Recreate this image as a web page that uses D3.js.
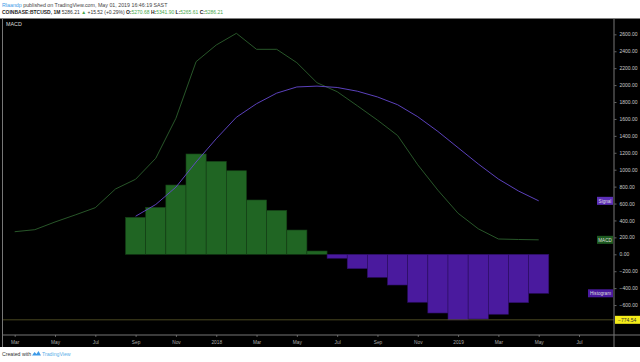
<!DOCTYPE html>
<html>
<head>
<meta charset="utf-8">
<script src="https://cdn.jsdelivr.net/npm/d3@7"></script>
<style>
  html, body { margin: 0; padding: 0; background: #fff; }
  text { font-family: "Liberation Sans", Arial, sans-serif; }
</style>
</head>
<body>
<div id="chart"></div>
<script>
// months Mar 2017 .. May 2019 (monthly bars)
var months = ["2017-03","2017-04","2017-05","2017-06","2017-07","2017-08","2017-09","2017-10","2017-11","2017-12",
  "2018-01","2018-02","2018-03","2018-04","2018-05","2018-06","2018-07","2018-08","2018-09","2018-10","2018-11","2018-12",
  "2019-01","2019-02","2019-03","2019-04","2019-05"];
var macdValues = [267, 291, 382, 465, 551, 772, 887, 1135, 1608, 2277,
  2474, 2612, 2423, 2423, 2265, 2028, 1922, 1756, 1586, 1404, 1058, 757,
  485, 302, 181, 175, 171];
var signalValues = [null, null, null, null, null, null, 450, 589, 794, 1091,
  1366, 1620, 1780, 1905, 1978, 1988, 1972, 1928, 1860, 1768, 1626, 1452,
  1260, 1068, 890, 748, 632];
var histValues = [null, null, null, null, null, null, 437, 555, 819, 1186,
  1099, 988, 642, 520, 287, 39, -47, -170, -272, -363, -567, -694,
  -774.54, -765, -709, -572, -461];
var timeTicks = ["Mar","May","Jul","Sep","Nov","2018","Mar","May","Jul","Sep","Nov","2019","Mar","May","Jul"];
var priceTicks = [2600, 2400, 2200, 2000, 1800, 1600, 1400, 1200, 1000, 800, 600, 400, 200, 0, -200, -400, -600];

var width = 640, height = 362;
var panelLeft = 3, panelRight = 614, panelTop = 18.5, panelBottom = 347, axisLineY = 335;

var svg = d3.select('#chart').append('svg')
  .attr('width', width)
  .attr('height', height);

svg.append('rect').attr('width', width).attr('height', height).attr('fill', '#fff');

// header
var h1 = svg.append('text').attr('x', 2).attr('y', 7).attr('font-size', 5.3).attr('fill', '#444');
h1.append('tspan').attr('fill', '#3d9ae8').text('Rlaandp');
h1.append('tspan').text(' published on TradingView.com, May 01, 2019 16:46:19 SAST');

var h2 = svg.append('text').attr('x', 2).attr('y', 14.3).attr('font-size', 5.1).attr('fill', '#333')
  .attr('textLength', 221).attr('lengthAdjust', 'spacingAndGlyphs');
var green = '#48a84c';
[
  ['COINBASE:BTCUSD, 1M', '#222', 'bold'],
  [' 5286.21 ', '#333'],
  ['\u25B2', green],
  [' +15.52 (+0.29%) ', '#333'],
  ['O:', '#222', 'bold'], ['5270.68', green],
  [' H:', '#222', 'bold'], ['5341.90', green],
  [' L:', '#222', 'bold'], ['5265.61', green],
  [' C:', '#222', 'bold'], ['5286.21', green]
].forEach(function (p) {
  h2.append('tspan').attr('fill', p[1]).attr('font-weight', p[2] || 'normal').text(p[0]);
});

// black panel
svg.append('rect')
  .attr('x', 0).attr('y', panelTop)
  .attr('width', width).attr('height', panelBottom - panelTop)
  .attr('fill', '#000');

// scales: equal spacing per monthly bar, index 0 = Mar 2017
var x = d3.scaleLinear().domain([0, 28]).range([14.7, 579]);
var y = d3.scaleLinear().domain([0, 1000]).range([254.3, 169.7]);
var step = x(1) - x(0);

var plot = svg.append('g');
svg.append('clipPath').attr('id', 'clip')
  .append('rect').attr('x', panelLeft).attr('y', panelTop)
  .attr('width', panelRight - panelLeft).attr('height', axisLineY - panelTop);
plot.attr('clip-path', 'url(#clip)');

// histogram
var histData = histValues.map(function (v, i) { return { i: i, v: v }; })
  .filter(function (d) { return d.v !== null; });

plot.selectAll('rect.hist')
  .data(histData)
  .enter()
  .append('rect')
  .attr('class', 'hist')
  .attr('x', function (d) { return x(d.i) - step / 2; })
  .attr('width', step)
  .attr('y', function (d) { return Math.min(y(d.v), y(0)); })
  .attr('height', function (d) { return Math.abs(y(d.v) - y(0)); })
  .attr('fill', function (d) { return d.v >= 0 ? '#206523' : '#4a1a9e'; })
  .attr('stroke', function (d) { return d.v >= 0 ? '#153f16' : '#2c0e63'; })
  .attr('stroke-width', 0.6);

// min line
var minVal = d3.min(histValues);
plot.append('line')
  .attr('x1', panelLeft).attr('x2', panelRight)
  .attr('y1', y(minVal)).attr('y2', y(minVal))
  .attr('stroke', '#5c5a2a')
  .attr('stroke-width', 0.8);

// lines
var line = d3.line()
  .defined(function (d) { return d !== null; })
  .x(function (d, i) { return x(i); })
  .y(function (d) { return y(d); });

plot.append('path')
  .attr('d', line(macdValues))
  .attr('fill', 'none')
  .attr('stroke', '#2c602e')
  .attr('stroke-width', 0.9);

plot.append('path')
  .attr('d', line(signalValues))
  .attr('fill', 'none')
  .attr('stroke', '#6548d0')
  .attr('stroke-width', 0.9);

// pane title
svg.append('text').attr('x', 6).attr('y', 26).attr('font-size', 5.4).attr('fill', '#ddd').text('MACD');

// borders
svg.append('line').attr('x1', 2.5).attr('x2', 2.5).attr('y1', panelTop).attr('y2', panelBottom)
  .attr('stroke', '#777').attr('stroke-width', 1);
svg.append('line').attr('x1', panelLeft).attr('x2', width).attr('y1', axisLineY).attr('y2', axisLineY)
  .attr('stroke', '#777').attr('stroke-width', 1);
svg.append('line').attr('x1', panelRight).attr('x2', panelRight).attr('y1', panelTop).attr('y2', panelBottom)
  .attr('stroke', '#777').attr('stroke-width', 1);

// price axis
var yAxis = d3.axisRight(y)
  .tickValues(priceTicks)
  .tickSize(2)
  .tickPadding(3)
  .tickFormat(function (d) { return d3.format('.2f')(d); });

var yg = svg.append('g')
  .attr('transform', 'translate(' + (panelRight + 0.5) + ',0)')
  .call(yAxis);
yg.select('.domain').remove();
yg.selectAll('line').attr('stroke', '#aaa').attr('stroke-width', 0.6);
yg.selectAll('text').attr('fill', '#ccc').attr('font-size', 5)
  .attr('font-family', '"Liberation Sans", Arial, sans-serif');

// time axis
var xAxis = d3.axisBottom(x)
  .tickValues(d3.range(0, 29, 2))
  .tickSize(2)
  .tickPadding(3.5)
  .tickFormat(function (d, i) { return timeTicks[i]; });

var xg = svg.append('g')
  .attr('transform', 'translate(0,' + axisLineY + ')')
  .call(xAxis);
xg.select('.domain').remove();
xg.selectAll('line').attr('stroke', '#999').attr('stroke-width', 0.6);
xg.selectAll('text').attr('fill', '#aaa').attr('font-size', 4.8)
  .attr('font-family', '"Liberation Sans", Arial, sans-serif');

// series tags on the price axis
function tag(label, value, fill, w) {
  var g = svg.append('g');
  g.append('rect')
    .attr('x', panelRight - w - 1).attr('y', y(value) - 4)
    .attr('width', w).attr('height', 8)
    .attr('fill', fill);
  g.append('text')
    .attr('x', panelRight - 1 - w / 2).attr('y', y(value) + 1.7)
    .attr('text-anchor', 'middle')
    .attr('font-size', 4.6).attr('fill', '#ddd')
    .text(label);
}
tag('Signal', signalValues[signalValues.length - 1], '#5c2fb8', 16);
tag('MACD', macdValues[macdValues.length - 1], '#1d5a20', 16);
tag('Histogram', histValues[histValues.length - 1], '#4a1a9e', 25);

// min value label
svg.append('rect')
  .attr('x', panelRight + 1).attr('y', y(minVal) - 4)
  .attr('width', 25).attr('height', 8)
  .attr('fill', '#f5ec1a');
svg.append('text')
  .attr('x', panelRight + 4).attr('y', y(minVal) + 1.8)
  .attr('font-size', 5).attr('fill', '#333')
  .text(d3.format('.2f')(minVal));

// footer
svg.append('text').attr('x', 2).attr('y', 355.5).attr('font-size', 5.2).attr('fill', '#333').text('Created with');
var logo = svg.append('g').attr('transform', 'translate(36,353)');
logo.append('path')
  .attr('d', 'M-4,2.5 L-1.5,-1 L0.5,1 L2.5,-2 L5,2.5 Z')
  .attr('fill', '#3d9ae8');
svg.append('text').attr('x', 42).attr('y', 355.5).attr('font-size', 5.2).attr('fill', '#5aaee8').text('TradingView');
</script>
</body>
</html>
